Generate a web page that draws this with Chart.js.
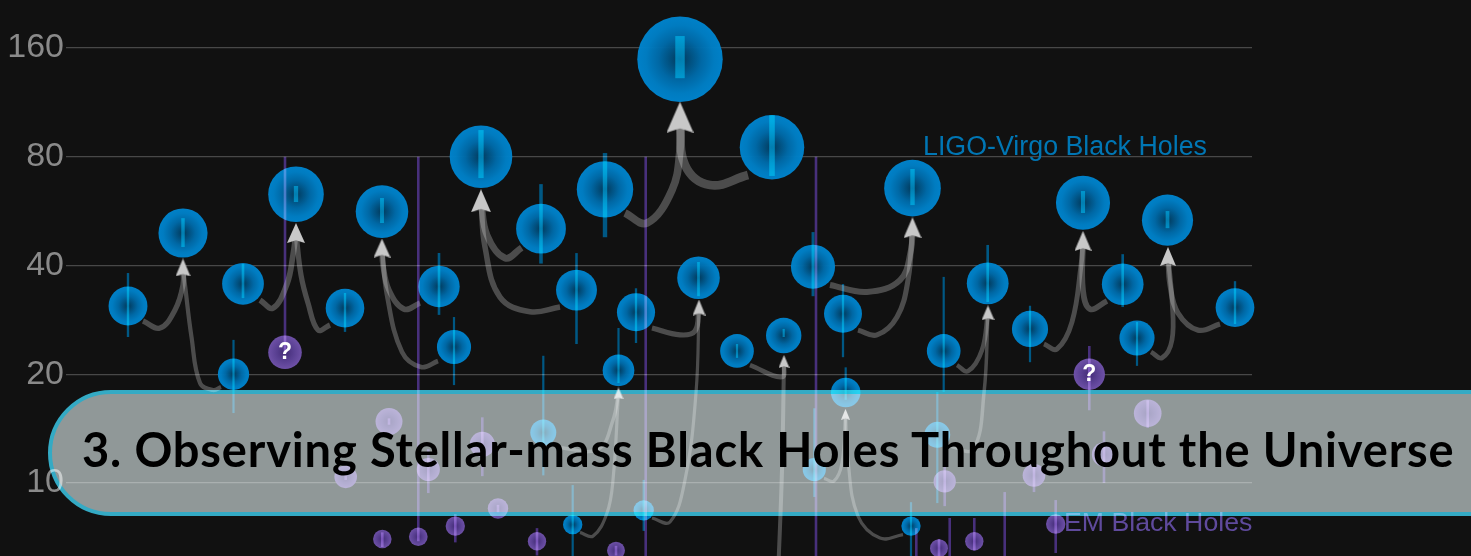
<!DOCTYPE html>
<html><head><meta charset="utf-8">
<style>
html,body{margin:0;padding:0;background:#111;width:1471px;height:556px;overflow:hidden}
#c{position:absolute;left:0;top:0}
#banner{position:absolute;left:48px;top:390px;width:1700px;height:126px;box-sizing:border-box;border:4px solid #25a4c0;border-radius:63px;background:rgb(136,145,145);mix-blend-mode:screen}
#title{position:absolute;left:82px;top:420px;white-space:nowrap;font:700 47px Lato,sans-serif;line-height:58px;color:#000}
</style>
<script src="https://cdn.jsdelivr.net/npm/chart.js@4"></script>
</head><body>
<canvas id="c" width="1471" height="556"></canvas>
<div id="banner"></div>
<div id="title">3. Observing Stellar-mass Black Holes Throughout the Universe</div>
<script>
const yTicks=[10,20,40,80,160];
const ligoX=[62,117,177,230,316,279,167.5,373,388,415,475,539,614,706,846.5,510.5,570,632.5,552.5,671,717.7,747,777,779.7,877.7,921.7,964,1017,1056.7,1071,1101.5,1169,477.3,506.7,577.7,748.3,871.3,845];
const ligoM=[30.9,49.2,35.6,63,56.4,30.5,20,35,23.8,80,50.6,65,149,85,65.5,34.2,29.7,37,20.5,23.2,25.6,39.7,29.4,17.8,23.2,35.7,26.7,59.7,35.5,25.2,53.4,30.6,13.8,7.67,8.4,10.9,13.6,7.6];
const ligoHi=[38.13,54.1,40.4,66.4,61.5,33.57,24.9,43.32,28.8,94.85,67.2,81.92,172.7,104.3,74,43.3,34.6,40.9,26.86,24.25,26.7,49.5,35.55,20.9,37.2,45.6,30.95,64.3,43,27.9,56.6,36.2,22.5,9.87,10.2,16.1,17.87,8.85];
const ligoLo=[25.36,45,32.5,59.95,52.44,26.2,15.62,29.2,18.67,69.85,40.5,47.9,132,70.8,58.8,24.25,24.41,32.9,18.91,22.2,25.36,32.9,22.3,17,17.87,31.7,21.6,55.9,30.7,21.1,50.75,27.55,10.5,5.5,7.37,9.15,8.8,5.5];
const emX=[219,323,279.7,362.3,416.3,432,1081.7,1038,968,878.7,1023.3,316.3,352.3,389.3,471,550,579.7,750,873,908.3,989.7,883.7,850.3,938.7];
const emM=[23,14.8,10.4,10.9,12.8,8.5,15.6,12,10.5,10.1,20,7,7.1,7.6,6.9,6.5,5,5,6.6,6.9,7.7,5,5,5];
const emHi=[80,15.1,10.6,12.4,15.2,8.7,16.95,13.9,11.36,11.56,23.95,7.3,80,8.2,7.5,6.7,80,80,7,8,8.97,8,7.5,9.44];
const emLo=[23,14.5,10.2,9.38,10.45,8.3,14.2,10,9.44,8.63,15.9,6.65,6.9,6.85,6.3,6.3,4.5,4.5,6.2,6.5,6.4,4.5,4.5,4.5];
const unknownEvents=[0,10];
const arrowX=[117,230,316,415,614,846.5,633,552.5,718,779.5,922,1017,1102];
const arrowM=[39.5,49.2,44.7,60.45,103,50.9,30.6,17.7,21.7,15.5,29.6,46.8,42.4];
const arrowRemnantM=[49.2,63,56.4,80,149,65.5,37,20.5,25.6,17.8,35.7,59.7,53.4];
const curveChildM=[30.9,20,35.6,30.5,35,23.8,50.6,34.2,65,85,39.7,29.4,29.7,8.4,13.8,7.67,23.2,18,10.9,7.6,23.2,13.6,26.7,35.5,25.2,30.6];
const curvePaths=[
[[77,28.09],[94,26.86],[109,30.13],[117,35.33],[117,39.5]],
[[155,18.43],[147,18.09],[134,18.91],[125.5,25.36],[119,35.33],[117,39.5]],
[[194,32.1],[207,30.5],[221,35.55],[227,42.76],[230,49.2]],
[[264,27.38],[252,26.52],[242,31.5],[235,37.65],[230,49.2]],
[[354,31.5],[338,30.3],[323,34.2],[317,40.1],[316,44.7]],
[[372,21.77],[355,20.95],[336,23.05],[321,33.15],[316,44.7]],
[[455.7,44.8],[439,41.96],[421,48.6],[415,60.45]],
[[494,30.7],[464,29.8],[434,32.7],[419,45],[415,60.45]],
[[559,55.89],[581,52.44],[606,64.7],[614,83.5],[614,102.1]],
[[682,71.2],[644,66.8],[619,75.9],[614,102.1]],
[[764,35.33],[801,33.8],[834,36.45],[845,44.15],[846.5,50.9]],
[[792,26.5],[811,25.7],[831,28.8],[842,36.45],[846.5,50.9]],
[[586,26.86],[614,25.7],[629,26.35],[633,30.6]],
[[586,8],[604,7.8],[619,10.2],[630,17.75],[633,30.6]],
[[490,12.57],[532,12.4],[547,14.94],[552.5,17.7]],
[[514,7.3],[527,7.13],[541,8.26],[547,10.2],[552.5,17.7]],
[[684,21.2],[716,19.65],[718,21.7]],
[[712,5.5],[716,10.87],[718,21.7]],
[[758,10.3],[768,10.13],[776,11.36],[779.5,15.5]],
[[837,7.2],[814,7.04],[792,8.1],[782,11.56],[779.5,15.5]],
[[891,21.2],[902,20.4],[916,23.35],[922,29.6]],
[[883,12.65],[907,12.4],[918,17.75],[922,29.6]],
[[978,24.25],[991,23.5],[1006,27.9],[1015,40],[1017,46.8]],
[[1041,31.9],[1024,30.3],[1017,34.2],[1017,46.8]],
[[1085,23.05],[1096,22.2],[1106,24.9],[1106,32.1],[1102,42.4]],
[[1154,27.55],[1132,26.5],[1112,29.55],[1104,35.33],[1102,42.4]]
];
const seriesLabels=[
 {text:'LIGO-Virgo Black Holes',x:857,m:80.9,color:'#0076b4',font:'26.8px "Liberation Sans"'},
 {text:'EM Black Holes',x:998,m:7.38,color:'#5f4a9c',font:'26.7px "Liberation Sans"'}
];

const radius=m=>3.5*Math.sqrt(m);
const stroke=m=>Math.max(2.2,0.06*m+0.5);
const arrowCache={};
function arrowCanvas(m){
  const r=radius(m),w=Math.round(r*0.63),h=Math.round(r*0.73),k=w+'x'+h;
  if(arrowCache[k])return arrowCache[k];
  const c=document.createElement('canvas');c.width=w;c.height=h;
  const g=c.getContext('2d');g.fillStyle='#c8c8c8';g.beginPath();
  g.moveTo(w/2,0);g.lineTo(w,h);g.lineTo(w/2,h*0.86);g.lineTo(0,h);g.closePath();g.fill();
  return arrowCache[k]=c;
}
function bubbleFill(stops){
  return ctx=>{
    const ch=ctx.chart,p=ctx.raw;
    if(!p||!ch.scales.x||!ch.chartArea)return stops[stops.length-1][1];
    const x=ch.scales.x.getPixelForValue(p.x),y=ch.scales.y.getPixelForValue(p.y);
    const g=ch.ctx.createRadialGradient(x,y,0,x,y,Math.max(p.r,1));
    stops.forEach(s=>g.addColorStop(s[0],s[1]));
    return g;
  };
}
const blueStops=[[0,'rgba(2,58,92,0.98)'],[0.5,'rgba(0,106,168,0.98)'],[0.8,'rgba(0,126,196,0.98)'],[1,'rgba(0,131,204,0.98)']];
const emStops=[[0,'rgba(68,44,120,0.98)'],[0.55,'rgba(92,66,150,0.98)'],[1,'rgba(112,82,170,0.98)']];
const datasets=[];
curvePaths.forEach((path,i)=>datasets.push({type:'line',order:50,clip:false,data:path.map(p=>({x:p[0],y:p[1]})),
  borderColor:'rgba(255,255,255,0.25)',borderWidth:Math.max(3.2,0.27*radius(curveChildM[i])),tension:0.4,capBezierPoints:false,pointRadius:0,fill:false,borderCapStyle:'butt'}));
datasets.push({type:'bubble',order:40,clip:false,borderWidth:0,hoverRadius:0,
  data:emX.map((x,i)=>({x,y:emM[i],r:radius(emM[i])})),backgroundColor:bubbleFill(emStops)});
datasets.push({type:'bubble',order:39,clip:false,borderWidth:0,hoverRadius:0,
  data:ligoX.map((x,i)=>({x,y:ligoM[i],r:radius(ligoM[i])})),backgroundColor:bubbleFill(blueStops)});
ligoX.forEach((x,i)=>datasets.push({type:'line',order:30,clip:false,blend:'screen',data:[{x,y:ligoLo[i]},{x,y:ligoHi[i]}],
  borderColor:'rgb(0,88,132)',borderWidth:stroke(ligoM[i]),borderCapStyle:'butt',pointRadius:0,fill:false}));
emX.forEach((x,i)=>datasets.push({type:'line',order:30,clip:false,blend:'screen',data:[{x,y:emLo[i]},{x,y:emHi[i]}],
  borderColor:'rgb(72,48,124)',borderWidth:Math.max(2.6,stroke(emM[i])),borderCapStyle:'butt',pointRadius:0,fill:false}));
datasets.push({type:'scatter',order:20,clip:false,showLine:false,data:arrowX.map((x,i)=>({x,y:arrowM[i]})),
  pointRadius:12,pointHoverRadius:12,pointStyle:ctx=>arrowCanvas(arrowRemnantM[ctx.dataIndex]??20)});

const overlay={id:'overlay',
  beforeDatasetDraw(ch,a){const d=ch.data.datasets[a.index];if(d.blend)ch.ctx.globalCompositeOperation=d.blend;},
  afterDatasetDraw(ch,a){const d=ch.data.datasets[a.index];if(d.blend)ch.ctx.globalCompositeOperation='source-over';},
  afterDatasetsDraw(ch){
    const c=ch.ctx,X=ch.scales.x,Y=ch.scales.y;c.save();
    c.textAlign='center';c.textBaseline='middle';c.fillStyle='#fff';c.font='bold 23px "Liberation Sans"';
    unknownEvents.forEach(i=>c.fillText('?',X.getPixelForValue(emX[i]),Y.getPixelForValue(emM[i])));
    c.textAlign='left';c.textBaseline='alphabetic';
    seriesLabels.forEach(l=>{c.fillStyle=l.color;c.font=l.font;c.fillText(l.text,X.getPixelForValue(l.x),Y.getPixelForValue(l.m));});
    c.restore();
  }};

new Chart(document.getElementById('c'),{
  type:'bubble',
  data:{datasets},
  plugins:[overlay],
  options:{responsive:false,animation:false,devicePixelRatio:1,events:[],
    layout:{autoPadding:false,padding:{left:0,right:219,top:0,bottom:0}},
    plugins:{legend:{display:false},tooltip:{enabled:false},title:{display:false}},
    scales:{
      x:{type:'linear',min:0,max:1186,display:false},
      y:{type:'logarithmic',min:6.28,max:217.3,
        afterFit(s){s.width=66;s.paddingTop=0;s.paddingBottom=0;},
        afterBuildTicks(s){s.ticks=yTicks.map(value=>({value}));},
        border:{display:false},
        grid:{color:'#484848',lineWidth:1.2,drawTicks:false},
        ticks:{autoSkip:false,padding:2,color:'#8a8a8a',font:{family:'"Liberation Sans"',size:34},callback:v=>String(v),maxRotation:0}
      }
    }
  }
});
const t=document.getElementById('title');
const mc=document.createElement('canvas').getContext('2d');mc.font='700 47px Lato';
const txt=t.textContent;t.style.letterSpacing=((1373-mc.measureText(txt).width)/(txt.length-1))+'px';
</script>
</body></html>
